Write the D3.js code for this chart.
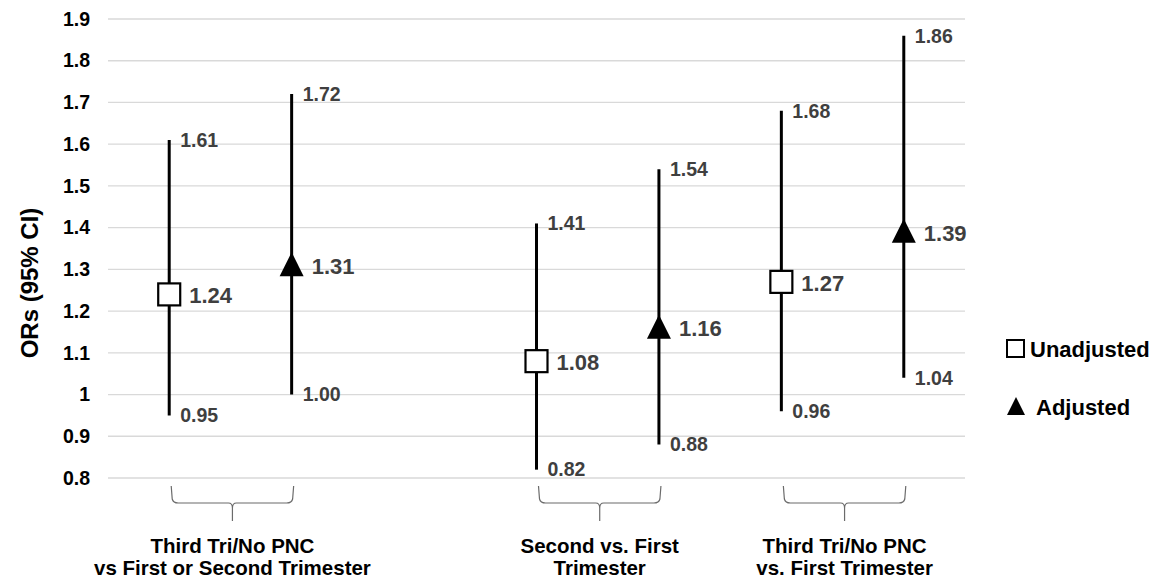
<!DOCTYPE html>
<html>
<head>
<meta charset="utf-8">
<script src="https://cdn.jsdelivr.net/npm/d3@7"></script>
<style>
  body { margin: 0; background: #fff; }
  svg text { font-family: "Liberation Sans", Arial, sans-serif; font-weight: bold; }
</style>
</head>
<body>
<svg width="1165" height="586"></svg>
<script>

// group labels (two lines each)
const groups = [
  ["Third Tri/No PNC", "vs First or Second Trimester"],
  ["Second vs. First", "Trimester"],
  ["Third Tri/No PNC", "vs. First Trimester"]
];
// slot order along x, one empty slot between group 1 and 2
const slots = ["g0u", "g0a", "gap", "g1u", "g1a", "g2u", "g2a"];

const unadjOR = [1.24, 1.08, 1.27];
const unadjLo = [0.95, 0.82, 0.96];
const unadjHi = [1.61, 1.41, 1.68];

const adjOR = [1.31, 1.16, 1.39];
const adjLo = [1.00, 0.88, 1.04];
const adjHi = [1.72, 1.54, 1.86];

const yTicks = [0.8, 0.9, 1, 1.1, 1.2, 1.3, 1.4, 1.5, 1.6, 1.7, 1.8, 1.9];
const legendNames = ["Unadjusted", "Adjusted"];

let data = [];
groups.forEach((g, i) => {
  data.push({key: "g" + i + "u", type: "u", or: unadjOR[i], lo: unadjLo[i], hi: unadjHi[i]});
  data.push({key: "g" + i + "a", type: "a", or: adjOR[i], lo: adjLo[i], hi: adjHi[i]});
});

let svg = d3.select("svg");

let y = d3.scaleLinear()
    .domain([0.8, 1.9])
    .range([478, 19]);

let x = d3.scaleBand(slots, [108, 965]);
let cx = k => x(k) + x.bandwidth() / 2;

let fmt = d3.format(".2f");

// gridlines
svg.append("g")
    .selectAll("line").data(yTicks)
  .join("line")
    .attr("x1", 108).attr("x2", 965)
    .attr("y1", d => y(d)).attr("y2", d => y(d))
    .attr("stroke", "#d9d9d9")
    .attr("stroke-width", 1.3);

// y axis labels
let yAxis = svg.append("g")
    .attr("transform", "translate(90,0)")
    .call(d3.axisLeft(y).tickValues(yTicks).tickSize(0).tickPadding(0)
        .tickFormat(d => String(+d.toFixed(1))));
yAxis.select(".domain").remove();
yAxis.selectAll("text")
    .attr("font-size", 19.5)
    .attr("font-family", "Liberation Sans, Arial, sans-serif")
    .attr("font-weight", "bold")
    .attr("fill", "#000");

svg.append("text")
    .attr("transform", "translate(38,283) rotate(-90)")
    .attr("text-anchor", "middle")
    .attr("font-size", 24)
    .text("ORs (95% CI)");

// CI lines
let marks = svg.append("g");
marks.selectAll("line").data(data)
  .join("line")
    .attr("x1", d => cx(d.key)).attr("x2", d => cx(d.key))
    .attr("y1", d => y(d.lo)).attr("y2", d => y(d.hi))
    .attr("stroke", "#000")
    .attr("stroke-width", 3);

// unadjusted squares
marks.selectAll("rect").data(data.filter(d => d.type == "u"))
  .join("rect")
    .attr("x", d => cx(d.key) - 11)
    .attr("y", d => y(d.or) - 11)
    .attr("width", 22).attr("height", 22)
    .attr("fill", "#fff")
    .attr("stroke", "#000")
    .attr("stroke-width", 2.2);

// adjusted triangles
marks.selectAll("path").data(data.filter(d => d.type == "a"))
  .join("path")
    .attr("d", d => {
      let px = cx(d.key), py = y(d.or);
      return `M${px},${py - 13}L${px + 12},${py + 11}L${px - 12},${py + 11}Z`;
    })
    .attr("fill", "#000");

// value labels
let labels = svg.append("g").attr("fill", "#3f3f3f");
labels.selectAll(".hi").data(data)
  .join("text")
    .attr("x", d => cx(d.key) + 11)
    .attr("y", d => y(d.hi))
    .attr("dy", "0.35em")
    .attr("font-size", 19.5)
    .text(d => fmt(d.hi));
labels.selectAll(".lo").data(data)
  .join("text")
    .attr("x", d => cx(d.key) + 11)
    .attr("y", d => y(d.lo))
    .attr("dy", "0.35em")
    .attr("font-size", 19.5)
    .text(d => fmt(d.lo));
labels.selectAll(".or").data(data)
  .join("text")
    .attr("x", d => cx(d.key) + 20)
    .attr("y", d => y(d.or) + 1)
    .attr("dy", "0.35em")
    .attr("font-size", 22)
    .text(d => fmt(d.or));

// braces + group labels
groups.forEach((g, i) => {
  let x0 = cx("g" + i + "u") + 2, x1 = cx("g" + i + "a") + 2;
  let m = (x0 + x1) / 2;
  let top = 486, bar = 503, tip = 521;
  svg.append("path")
      .attr("d", `M${x0},${top}L${x0 + 1},${bar - 4}Q${x0 + 2},${bar} ${x0 + 7},${bar}` +
                 `L${m - 4},${bar}Q${m},${bar} ${m},${bar + 5}L${m},${tip}` +
                 `M${m},${bar + 5}Q${m},${bar} ${m + 4},${bar}L${x1 - 7},${bar}` +
                 `Q${x1 - 2},${bar} ${x1 - 1},${bar - 4}L${x1},${top}`)
      .attr("fill", "none")
      .attr("stroke", "#6b6b6b")
      .attr("stroke-width", 1.2);
  svg.append("text")
      .attr("text-anchor", "middle")
      .attr("font-size", 20.5)
      .selectAll("tspan").data(g)
    .join("tspan")
      .attr("x", m)
      .attr("y", (d, j) => 553 + j * 22)
      .text(d => d);
});

// legend
let leg = svg.append("g");
leg.append("rect")
    .attr("x", 1007).attr("y", 340).attr("width", 17).attr("height", 17)
    .attr("fill", "#fff").attr("stroke", "#000").attr("stroke-width", 2);
leg.append("path")
    .attr("d", "M1016,397L1025,415L1007,415Z")
    .attr("fill", "#000");
leg.selectAll("text").data(legendNames)
  .join("text")
    .attr("x", (d, i) => i == 0 ? 1030 : 1036)
    .attr("y", (d, i) => 357 + i * 58)
    .attr("font-size", 22)
    .text(d => d);

</script>
</body>
</html>
